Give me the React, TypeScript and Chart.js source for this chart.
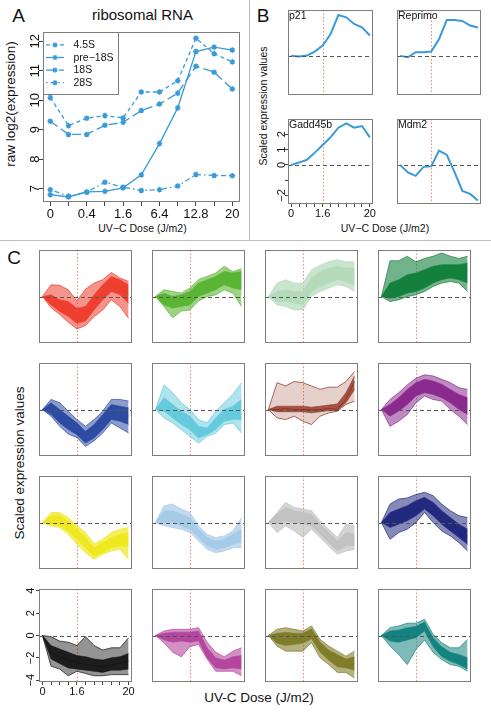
import React, { useEffect, useRef } from 'react';
import { Chart, registerables } from 'chart.js';

Chart.register(...registerables);

const FONT_FAMILY = "'Liberation Sans', Arial, Helvetica, sans-serif";
const LINE_BLUE = '#3a9ad8';
const FRAME_GRAY = '#7d7d7d';
const VLINE_COLOR = '#ee8a6c';

// ---------- Panel A : ribosomal RNA ----------
const doseTickLabelsA = ['0', '', '0.4', '', '1.6', '', '6.4', '', '12.8', '', '20'];
const rnaTicksA = [7, 8, 9, 10, 11, 12];
const rnaNames = ['4.5S', 'pre\u221218S', '18S', '28S'];
const rna45S = [10.09, 9.14, 9.39, 9.48, 9.4, 10.28, 10.28, 10.66, 12.1, 11.58, 11.3];
const rnaPre18S = [6.8, 6.72, 6.89, 6.91, 7.03, 7.47, 8.53, 9.74, 11.65, 11.8, 11.7];
const rna18S = [9.29, 8.84, 8.84, 9.15, 9.25, 9.65, 9.87, 10.24, 11.15, 10.95, 10.38];
const rna28S = [6.97, 6.75, 6.88, 7.22, 7.05, 6.94, 6.97, 7.09, 7.48, 7.45, 7.44];

// ---------- Panel B : marker genes ----------
const doseTickLabelsBC = ['0', '', '', '', '1.6', '', '', '', '', '', '20'];
const geneNames = ['p21', 'Reprimo', 'Gadd45b', 'Mdm2'];
const geneP21 = [0, -0.04, 0.02, 0.28, 0.67, 1.41, 2.67, 2.52, 2.09, 1.87, 1.33];
const geneReprimo = [0, -0.09, 0.24, 0.24, 0.28, 1.09, 2.35, 2.35, 2.28, 1.98, 1.85];
const geneGadd45b = [0, 0.15, 0.33, 0.8, 1.3, 1.8, 2.43, 2.72, 2.43, 2.54, 1.8];
const geneMdm2 = [0, -0.5, -0.72, -0.13, -0.1, 0.93, 0.65, -0.48, -1.7, -1.9, -2.33];
const scaledTicksB = [-2, -1, 0, 1, 2];
const scaledTickLabelsB = ['\u22122', '', '0', '1', '2'];

// ---------- Panel C : clusters ----------
const scaledTicksC = [-4, -2, 0, 2, 4];
const scaledTickLabelsC = ['\u22124', '\u22122', '0', '2', '4'];
const clusterColors = [
  '#ee3b2b', '#5ab534', '#b4dab9', '#14803e',
  '#2d4ba2', '#5fc8dc', '#8c2a16', '#8a2a8e',
  '#f0e81e', '#a6cbe8', '#c2c2c2', '#23297e',
  '#111111', '#b4469f', '#807d2a', '#14827e',
];
// outer envelope of each cluster (highest / lowest profiles)
const clusterUpper = [
  [0, 1.05, 1.0, 0.6, -0.4, 0.65, 1.2, 1.5, 2.15, 1.65, 1.35],
  [0, 0.6, 0.45, 0.3, 0.75, 1.5, 1.8, 2.1, 2.7, 2.2, 2.5],
  [0, 1.2, 1.5, 1.2, 1.2, 2.4, 2.8, 3.1, 3.3, 3.1, 3.1],
  [0, 3.2, 3.2, 3.6, 3.1, 3.4, 3.6, 3.9, 3.6, 3.4, 3.6],
  [0, 0.9, 0.6, -0.15, -0.9, -1.5, -0.9, -0.15, 0.9, 0.9, 0.75],
  [0, 2.2, 1.5, 0.6, 0.0, -0.9, -1.2, -0.15, 0.6, 1.35, 2.4],
  [0, 2.4, 2.1, 2.5, 2.4, 2.1, 1.8, 2.0, 2.0, 2.5, 3.4],
  [0, 0.9, 1.5, 2.2, 2.8, 3.1, 3.0, 2.7, 2.4, 1.95, 1.8],
  [0, 0.9, 0.9, 0.45, -0.3, -0.9, -1.9, -1.5, -0.9, -0.6, -0.45],
  [0, 1.5, 1.65, 1.2, 0.9, -0.3, -1.05, -1.35, -1.2, -0.75, 0.45],
  [0, 0.9, 1.8, 1.35, 1.2, 1.05, 0.15, -0.6, -1.35, -0.15, -0.3],
  [0, 1.65, 2.1, 2.2, 2.5, 2.7, 2.4, 1.65, 1.05, 0.6, 0.45],
  [0, -0.1, -0.5, -0.6, -0.9, -0.1, -0.9, -1.3, -1.1, -1.1, -0.2],
  [0, 0.4, 0.55, 0.55, 0.55, 0.7, -0.6, -1.5, -1.9, -1.4, -1.1],
  [0, 0.55, 0.7, 0.55, 0.4, 0.85, -0.35, -0.95, -1.4, -1.85, -1.4],
  [0, 0.7, 0.85, 1.1, 1.1, 1.45, 0.1, -0.65, -1.1, -1.1, -0.35],
];
const clusterLower = [
  [0, -1.0, -1.6, -2.3, -2.9, -2.6, -1.8, -1.2, -0.3, -0.9, -1.95],
  [0, -0.9, -1.9, -1.3, -1.2, -0.4, 0.0, 0.15, 0.6, 0.3, -0.9],
  [0, -0.75, -0.9, -1.2, -1.2, 0.0, 0.45, 0.75, 1.05, 0.9, 0.45],
  [0, -0.45, -0.3, 0.0, 0.15, 0.45, 0.9, 1.2, 1.35, 1.2, 0.45],
  [0, -0.6, -1.5, -2.2, -2.5, -3.3, -2.8, -2.1, -1.2, -1.65, -2.1],
  [0, -0.75, -1.2, -1.8, -2.4, -3.0, -2.4, -2.1, -1.35, -1.2, -2.1],
  [0, -0.75, -0.9, -0.6, -1.05, -1.35, -0.6, -0.3, -0.15, 0.45, 0.75],
  [0, -1.5, -1.05, -0.45, 0.6, 1.2, 0.9, 0.75, 0.0, -0.6, -1.35],
  [0, -0.3, -0.45, -1.05, -1.95, -2.7, -3.3, -2.85, -2.55, -2.4, -3.3],
  [0, -0.3, -0.45, -0.6, -0.9, -1.65, -2.4, -2.7, -2.55, -2.25, -2.25],
  [0, -0.9, -0.3, -0.75, -1.35, -0.6, -1.35, -2.1, -2.85, -2.55, -2.4],
  [0, -1.5, -0.9, -0.6, 0.0, 0.9, 0.0, -0.75, -1.2, -1.8, -2.55],
  [0, -2.75, -3.0, -3.6, -3.2, -3.4, -3.6, -3.6, -3.5, -3.5, -3.5],
  [0, -0.65, -1.5, -1.9, -1.0, -0.8, -2.1, -3.2, -3.2, -3.2, -3.6],
  [0, -0.95, -1.4, -1.4, -1.4, -0.65, -2.0, -2.6, -3.3, -3.3, -3.8],
  [0, -0.95, -1.7, -2.6, -1.25, -0.4, -1.5, -2.15, -2.6, -2.75, -3.2],
];
// dense core of each cluster (upper / lower edge of the bulk of profiles)
const clusterCoreUpper = [
  [0, 0.15, -0.3, -0.45, -1.05, -0.9, 0.15, 1.05, 1.8, 1.5, 1.05],
  [0, 0.3, 0.0, 0.15, 0.45, 1.2, 1.5, 1.8, 2.25, 2.1, 2.25],
  [0, 0.45, 0.6, 0.45, 0.45, 1.65, 2.25, 2.55, 2.7, 2.55, 2.55],
  [0, 1.2, 1.5, 1.95, 2.1, 2.4, 2.7, 2.85, 2.85, 2.85, 3.0],
  [0, 0.6, 0.0, -0.6, -1.2, -1.95, -1.35, -0.45, 0.45, 0.3, 0.15],
  [0, 1.05, 0.45, -0.15, -0.6, -1.5, -1.65, -0.75, 0.0, 0.3, 0.9],
  [0, 0.3, 0.3, 0.3, 0.3, 0.2, 0.3, 0.4, 0.5, 1.5, 3.0],
  [0, 0.45, 1.05, 1.8, 2.4, 2.7, 2.55, 2.25, 1.8, 1.35, 1.05],
  [0, 0.6, 0.6, 0.15, -0.6, -1.35, -2.25, -1.8, -1.35, -1.05, -0.9],
  [0, 1.05, 1.05, 0.75, 0.45, -0.6, -1.35, -1.65, -1.5, -1.05, -0.6],
  [0, 0.75, 1.35, 1.05, 0.9, 0.75, -0.15, -0.9, -1.65, -0.9, -1.05],
  [0, 0.9, 1.2, 1.5, 1.95, 2.25, 1.8, 1.05, 0.45, -0.15, -0.6],
  [0, -0.9, -1.2, -1.5, -1.8, -1.9, -2.1, -2.2, -2.0, -1.9, -1.6],
  [0, 0.2, 0.3, 0.3, 0.3, 0.4, -1.1, -2.0, -2.2, -1.9, -1.8],
  [0, 0.2, 0.3, 0.2, 0.2, 0.6, -0.6, -1.3, -1.7, -2.1, -1.9],
  [0, 0.4, 0.5, 0.7, 0.8, 1.2, -0.2, -1.0, -1.5, -1.7, -2.0],
];
const clusterCoreLower = [
  [0, -0.75, -1.35, -1.8, -2.4, -2.2, -1.2, -0.3, 0.45, 0.15, -0.6],
  [0, -0.75, -1.05, -0.9, -0.75, 0.0, 0.3, 0.6, 1.05, 0.75, 0.6],
  [0, -0.45, -0.45, -0.6, -0.75, 0.45, 0.9, 1.2, 1.5, 1.35, 1.05],
  [0, -0.15, 0.0, 0.3, 0.45, 0.75, 1.2, 1.5, 1.65, 1.5, 1.2],
  [0, -0.45, -1.2, -1.8, -2.25, -3.0, -2.55, -1.8, -0.9, -1.05, -1.35],
  [0, -0.15, -0.75, -1.35, -1.8, -2.55, -2.25, -1.8, -1.05, -0.9, -0.9],
  [0, -0.2, -0.2, -0.2, -0.2, -0.3, -0.2, -0.1, -0.1, 0.6, 1.8],
  [0, -0.6, -0.15, 0.45, 1.2, 1.5, 1.35, 1.05, 0.6, 0.0, -0.45],
  [0, -0.15, -0.3, -0.75, -1.5, -2.25, -3.0, -2.7, -2.25, -2.1, -2.1],
  [0, 0.0, 0.0, -0.3, -0.6, -1.35, -2.1, -2.4, -2.25, -1.95, -1.8],
  [0, -0.15, 0.15, 0.0, -0.15, -0.3, -1.05, -1.8, -2.55, -2.1, -2.1],
  [0, -0.45, -0.15, 0.15, 0.6, 1.2, 0.6, -0.15, -0.75, -1.35, -1.95],
  [0, -2.1, -2.5, -2.9, -3.0, -3.1, -3.2, -3.3, -3.1, -3.1, -3.0],
  [0, -0.4, -0.6, -0.5, -0.6, -0.5, -2.0, -2.9, -3.0, -2.9, -3.0],
  [0, -0.7, -0.9, -0.8, -0.7, -0.3, -1.5, -2.2, -2.8, -2.9, -3.1],
  [0, -0.5, -0.6, -0.4, -0.2, 0.4, -1.0, -1.9, -2.3, -2.6, -3.0],
];
const clusterMiddle = [
  [0, -0.4, -1.0, -1.5, -1.9, -1.8, -0.6, 0.3, 1.05, 0.75, 0.15],
  [0, -0.2, -0.4, -0.3, 0.0, 0.8, 1.1, 1.4, 1.9, 1.5, 1.5],
  [0, 0.0, 0.1, 0.0, 0.0, 1.2, 1.6, 1.9, 2.1, 2.0, 1.8],
  [0, 0.7, 1.0, 1.5, 1.6, 1.8, 2.1, 2.3, 2.4, 2.3, 2.3],
  [0, 0.1, -0.5, -1.2, -1.7, -2.4, -1.9, -1.0, -0.3, -0.5, -0.6],
  [0, 0.5, 0.0, -0.7, -1.2, -2.0, -2.1, -1.3, -0.5, -0.3, 0.0],
  [0, 0.0, 0.1, 0.0, 0.0, 0.0, 0.0, 0.1, 0.0, 0.9, 2.5],
  [0, 0.2, 0.6, 1.2, 1.8, 2.2, 2.0, 1.7, 1.3, 0.8, 0.4],
  [0, 0.4, 0.3, -0.3, -1.0, -1.9, -2.6, -2.2, -1.8, -1.5, -1.4],
  [0, 0.6, 0.6, 0.3, 0.0, -1.0, -1.8, -2.1, -2.0, -1.6, -1.3],
  [0, 0.4, 0.9, 0.7, 0.6, 0.4, -0.5, -1.3, -2.0, -1.5, -1.7],
  [0, 0.6, 0.9, 1.1, 1.5, 2.0, 1.6, 0.8, 0.1, -0.6, -1.2],
  [0, -1.5, -1.9, -2.2, -2.4, -2.6, -2.7, -2.8, -2.6, -2.5, -2.3],
  [0, -0.1, -0.2, -0.1, -0.2, -0.1, -1.6, -2.5, -2.6, -2.4, -2.4],
  [0, -0.3, -0.4, -0.3, -0.2, 0.2, -1.0, -1.8, -2.2, -2.5, -2.5],
  [0, 0.0, 0.0, 0.3, 0.4, 0.9, -0.6, -1.5, -1.9, -2.2, -2.6],
];
const clusterOuterAlpha = [0.55, 0.6, 0.7, 0.6, 0.55, 0.5, 0.22, 0.55, 0.7, 0.7, 0.7, 0.55, 0.45, 0.6, 0.6, 0.55];
const clusterCoreAlpha = [0.95, 1, 1, 1, 1, 0.9, 0.75, 1, 1, 1, 1, 1, 0.9, 1, 1, 1];

// ---------- helpers ----------
const PAD = 3;

function rgba(hex: string, a: number) {
  const n = parseInt(hex.slice(1), 16);
  return `rgba(${(n >> 16) & 255},${(n >> 8) & 255},${n & 255},${a})`;
}
const pts = (vals: number[]) => vals.map((v, i) => ({ x: i, y: v }));

interface Spec {
  box: number[];
  yw: number;
  xh: number;
  tl: number;
  yMin: number;
  yMax: number;
  yTicks?: number[];
  yTickLabels?: string[];
  yLabelOffset?: number;
  yFont?: number;
  xTickLabels?: string[];
  xFont?: number;
  xPad?: number;
  datasets: any[];
  zero?: boolean;
  vline?: number;
  corner?: string;
  legend?: boolean;
}

function star(ctx: CanvasRenderingContext2D, x: number, y: number, r: number) {
  const d = r * 0.707;
  ctx.beginPath();
  ctx.moveTo(x - r, y); ctx.lineTo(x + r, y);
  ctx.moveTo(x, y - r); ctx.lineTo(x, y + r);
  ctx.moveTo(x - d, y - d); ctx.lineTo(x + d, y + d);
  ctx.moveTo(x - d, y + d); ctx.lineTo(x + d, y - d);
  ctx.stroke();
}

function decoPlugin(s: Spec) {
  return {
    id: 'deco',
    beforeDatasetsDraw(chart: any) {
      const { ctx, chartArea: a, scales } = chart;
      if (s.vline !== undefined) {
        const x = Math.round(scales.x.getPixelForValue(s.vline)) + 0.5;
        ctx.save();
        ctx.strokeStyle = VLINE_COLOR;
        ctx.lineWidth = 1;
        ctx.setLineDash([1.5, 2]);
        ctx.beginPath(); ctx.moveTo(x, a.top); ctx.lineTo(x, a.bottom); ctx.stroke();
        ctx.restore();
      }
    },
    afterDatasetsDraw(chart: any) {
      const { ctx, chartArea: a, scales } = chart;
      ctx.save();
      if (s.zero) {
        const y = Math.round(scales.y.getPixelForValue(0)) + 0.5;
        ctx.strokeStyle = '#555';
        ctx.lineWidth = 1;
        ctx.setLineDash([4, 3]);
        ctx.beginPath(); ctx.moveTo(a.left, y); ctx.lineTo(a.right, y); ctx.stroke();
      }
      ctx.setLineDash([]);
      ctx.strokeStyle = FRAME_GRAY;
      ctx.lineWidth = 1;
      ctx.strokeRect(Math.round(a.left) + 0.5, Math.round(a.top) + 0.5,
        Math.round(a.right - a.left) - 1, Math.round(a.bottom - a.top) - 1);

      if (s.legend) {
        const lx = Math.round(a.left) + 0.5, ly = Math.round(a.top) + 0.5;
        ctx.fillStyle = '#fff';
        ctx.fillRect(lx, ly, 75, 62);
        ctx.strokeStyle = FRAME_GRAY;
        ctx.strokeRect(lx, ly, 75, 62);
        ctx.font = `10.5px ${FONT_FAMILY}`;
        ctx.textBaseline = 'middle';
        ctx.textAlign = 'left';
        chart.data.datasets.forEach((ds: any, i: number) => {
          const yy = a.top + 12.5 + i * 12.6;
          ctx.strokeStyle = ds.borderColor;
          ctx.lineWidth = ds.borderWidth;
          ctx.setLineDash(ds.borderDash || []);
          ctx.beginPath(); ctx.moveTo(a.left + 3, yy); ctx.lineTo(a.left + 21, yy); ctx.stroke();
          ctx.setLineDash([]);
          ctx.lineWidth = 1.2;
          star(ctx, a.left + 12, yy, 2.6);
          ctx.fillStyle = '#111';
          ctx.fillText(ds.label, a.left + 30.5, yy + 0.5);
        });
      }
      if (s.corner) {
        ctx.fillStyle = '#111';
        ctx.font = `10.5px ${FONT_FAMILY}`;
        ctx.textBaseline = 'top';
        ctx.textAlign = 'left';
        ctx.fillText(s.corner, a.left + 1, a.top + 0.5);
      }
      if (s.yw > 0 && s.yTicks && s.yTickLabels) {
        ctx.fillStyle = '#111';
        ctx.font = `${s.yFont}px ${FONT_FAMILY}`;
        ctx.textAlign = 'center';
        ctx.textBaseline = 'middle';
        s.yTicks.forEach((v, i) => {
          const y = scales.y.getPixelForValue(v);
          ctx.save();
          ctx.translate(a.left - (s.yLabelOffset || 8), y);
          ctx.rotate(-Math.PI / 2);
          ctx.fillText(s.yTickLabels![i], 0, 0);
          ctx.restore();
        });
      }
      ctx.restore();
    },
  };
}

function geometry(s: Spec) {
  const [l, t, r, b] = s.box;
  return {
    left: l - s.yw - PAD,
    top: t - PAD,
    width: r - l + s.yw + 2 * PAD,
    height: b - t + PAD + (s.xh > 0 ? s.xh : PAD),
  };
}

function makeConfig(s: Spec): any {
  const showX = s.xh > 0;
  const showY = s.yw > 0;
  const xLabels = s.xTickLabels || doseTickLabelsBC;
  return {
    type: 'line',
    data: { datasets: s.datasets },
    options: {
      animation: false,
      responsive: false,
      events: [],
      layout: { padding: { left: PAD, top: PAD, right: PAD, bottom: showX ? 0 : PAD } },
      plugins: { legend: { display: false }, tooltip: { enabled: false }, title: { display: false } },
      elements: { point: { radius: 0 }, line: { tension: 0 } },
      scales: {
        x: {
          type: 'linear',
          display: showX,
          min: -0.4,
          max: 10.4,
          afterBuildTicks: (sc: any) => { sc.ticks = xLabels.map((_, i) => ({ value: i })); },
          afterFit: (sc: any) => {
            sc.height = showX ? s.xh : 0;
            sc.paddingLeft = 0; sc.paddingRight = 0; sc.paddingTop = 0; sc.paddingBottom = 0;
          },
          ticks: {
            autoSkip: false, minRotation: 0, maxRotation: 0,
            padding: s.xPad ?? 0,
            color: '#111',
            font: { family: FONT_FAMILY, size: s.xFont || 11 },
            callback: (_v: any, i: number) => xLabels[i],
          },
          grid: { display: true, drawOnChartArea: false, drawTicks: true, tickLength: s.tl, color: '#444', tickColor: '#444' },
          border: { display: false },
        },
        y: {
          type: 'linear',
          display: showY,
          min: s.yMin,
          max: s.yMax,
          afterBuildTicks: (sc: any) => { if (s.yTicks) sc.ticks = s.yTicks.map((v) => ({ value: v })); },
          afterFit: (sc: any) => {
            sc.width = showY ? s.yw : 0;
            sc.paddingLeft = 0; sc.paddingRight = 0; sc.paddingTop = 0; sc.paddingBottom = 0;
          },
          ticks: { display: false },
          grid: { display: true, drawOnChartArea: false, drawTicks: true, tickLength: s.tl, color: '#444', tickColor: '#444' },
          border: { display: false },
        },
      },
    },
    plugins: [decoPlugin(s)],
  };
}

// ---------- specs ----------
function buildSpecs(): Spec[] {
  const specs: Spec[] = [];

  // Panel A
  const aSeries = [rna45S, rnaPre18S, rna18S, rna28S];
  const aDash = [[4, 3], [], [9, 4], [1.5, 3, 5, 3]];
  specs.push({
    box: [43, 30, 242, 202], yw: 40, xh: 26, tl: 4,
    yMin: 6.55, yMax: 12.3, yTicks: rnaTicksA, yTickLabels: rnaTicksA.map(String), yLabelOffset: 8, yFont: 13,
    xTickLabels: doseTickLabelsA, xFont: 13, xPad: 1,
    legend: true,
    datasets: aSeries.map((vals, i) => ({
      label: rnaNames[i],
      data: pts(vals),
      borderColor: LINE_BLUE,
      borderWidth: 1.3,
      borderDash: aDash[i],
      pointStyle: 'star',
      pointRadius: 2.8,
      pointBorderWidth: 1.4,
      pointBorderColor: LINE_BLUE,
      pointBackgroundColor: LINE_BLUE,
      fill: false,
    })),
  });

  // Panel B
  const bSeries = [geneP21, geneReprimo, geneGadd45b, geneMdm2];
  const bBoxes = [[288, 10, 373, 95], [397, 10, 481, 95], [288, 119, 373, 204], [397, 119, 481, 204]];
  bSeries.forEach((vals, i) => {
    const withAxes = i === 2;
    specs.push({
      box: bBoxes[i], yw: withAxes ? 20 : 0, xh: withAxes ? 22 : 0, tl: 3,
      yMin: -2.56, yMax: 3.0, yTicks: scaledTicksB, yTickLabels: scaledTickLabelsB, yLabelOffset: 6.5, yFont: 11,
      xTickLabels: doseTickLabelsBC, xFont: 11, xPad: 0,
      zero: true, vline: 4, corner: geneNames[i],
      datasets: [{ label: geneNames[i], data: pts(vals), borderColor: LINE_BLUE, borderWidth: 2, fill: false }],
    });
  });

  // Panel C
  const lefts = [39, 152, 265, 378];
  const tops = [250, 363, 476, 589];
  clusterColors.forEach((col, k) => {
    const r = Math.floor(k / 4), c = k % 4;
    const withAxes = r === 3 && c === 0;
    specs.push({
      box: [lefts[c], tops[r], lefts[c] + 93, tops[r] + 93], yw: withAxes ? 20 : 0, xh: withAxes ? 22 : 0, tl: 3,
      yMin: -4.16, yMax: 4.16, yTicks: scaledTicksC, yTickLabels: scaledTickLabelsC, yLabelOffset: 8, yFont: 11,
      xTickLabels: doseTickLabelsBC, xFont: 11, xPad: 0,
      zero: true, vline: 4,
      datasets: [
        { data: pts(clusterCoreUpper[k]), borderColor: rgba(col, 0.9), borderWidth: 0.6, fill: '+1', backgroundColor: rgba(col, clusterCoreAlpha[k]) },
        { data: pts(clusterCoreLower[k]), borderColor: rgba(col, 0.9), borderWidth: 0.6, fill: false },
        { data: pts(clusterUpper[k]), borderColor: col, borderWidth: 0.7, fill: '+2', backgroundColor: rgba(col, clusterOuterAlpha[k]) },
        { data: pts(clusterMiddle[k]), borderColor: col, borderWidth: 0.7, fill: false },
        { data: pts(clusterLower[k]), borderColor: col, borderWidth: 0.7, fill: false },
      ],
    });
  });
  return specs;
}

const SPECS = buildSpecs();

function Txt(props: { x: number; y: number; size: number; rotate?: boolean; children: React.ReactNode }) {
  const { x, y, size, rotate, children } = props;
  return (
    <div
      style={{
        position: 'absolute', left: x, top: y,
        transform: `translate(-50%, -50%)${rotate ? ' rotate(-90deg)' : ''}`,
        fontSize: size, lineHeight: 1, whiteSpace: 'nowrap', color: '#111', fontFamily: FONT_FAMILY,
      }}
    >
      {children}
    </div>
  );
}

export default function App() {
  const refs = useRef<(HTMLCanvasElement | null)[]>([]);

  useEffect(() => {
    const charts = SPECS.map((s, i) => new Chart(refs.current[i] as HTMLCanvasElement, makeConfig(s)));
    return () => charts.forEach((c) => c.destroy());
  }, []);

  return (
    <div style={{ position: 'absolute', left: 0, top: 0, width: 491, height: 716, background: '#fff', overflow: 'hidden', fontFamily: FONT_FAMILY }}>
      <div style={{ position: 'absolute', left: 249, top: 0, width: 1, height: 240, background: '#bdbdbd' }} />
      <div style={{ position: 'absolute', left: 0, top: 240, width: 491, height: 1, background: '#bdbdbd' }} />

      <Txt x={18.5} y={15} size={19}>A</Txt>
      <Txt x={263} y={14.5} size={19}>B</Txt>
      <Txt x={14} y={257} size={19}>C</Txt>

      <Txt x={142.5} y={14} size={15}>ribosomal RNA</Txt>
      <Txt x={11} y={104} size={13.5} rotate>raw log2(expression)</Txt>
      <Txt x={142.5} y={228} size={10.5}>UV{'\u2212'}C Dose (J/m2)</Txt>

      <Txt x={263} y={106} size={10.5} rotate>Scaled expression values</Txt>
      <Txt x={385} y={228} size={10.5}>UV{'\u2212'}C Dose (J/m2)</Txt>

      <Txt x={20} y={463} size={13.5} rotate>Scaled expression values</Txt>
      <Txt x={259} y={698} size={13.5}>UV-C Dose (J/m2)</Txt>

      {SPECS.map((s, i) => {
        const g = geometry(s);
        return (
          <canvas
            key={i}
            ref={(el) => { refs.current[i] = el; }}
            width={g.width}
            height={g.height}
            style={{ position: 'absolute', left: g.left, top: g.top, width: g.width, height: g.height }}
          />
        );
      })}
    </div>
  );
}
